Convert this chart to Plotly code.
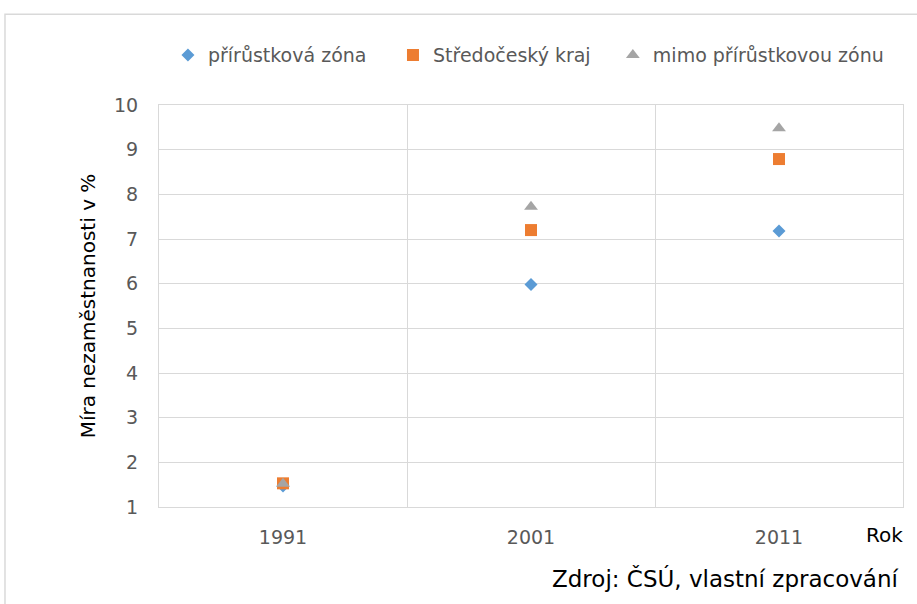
import plotly.graph_objects as go

# ---------------------------------------------------------
# data
# ---------------------------------------------------------

years = ["1991", "2001", "2011"]

zona = [1.47, 5.98, 7.18]
kraj = [1.53, 7.2, 8.79]
mimo = [1.52, 7.72, 9.48]

series = [
    ("přírůstková zóna", zona, "diamond", "#5B9BD5", 10, "legend"),
    ("Středočeský kraj", kraj, "square", "#ED7D31", 12, "legend2"),
    ("mimo přírůstkovou zónu", mimo, "triangle-up", "#A5A5A5", 12, "legend3"),
]

pos = list(range(len(years)))

FONT = "DejaVu Sans"

fig = go.Figure()

for name, values, symbol, color, size, leg in series:
    fig.add_trace(
        go.Scatter(
            x=pos,
            y=values,
            mode="markers",
            name=name,
            legend=leg,
            showlegend=True,
            marker=dict(symbol=symbol, color=color, size=size),
        )
    )

grid = "#D9D9D9"
tick_font = dict(family=FONT, size=19, color="#595959")
legend_font = dict(family=FONT, size=19, color="#595959")


def legend_at(x):
    return dict(
        orientation="h",
        x=x,
        xanchor="left",
        y=1.124,
        yanchor="middle",
        font=legend_font,
        bgcolor="rgba(0,0,0,0)",
    )


fig.update_layout(
    width=917,
    height=604,
    showlegend=True,
    margin=dict(l=159, r=14, t=105, b=97),
    paper_bgcolor="white",
    plot_bgcolor="white",
    font=dict(family=FONT, color="#595959"),
    legend=legend_at(0.012),
    legend2=legend_at(0.3145),
    legend3=legend_at(0.610),
    xaxis=dict(
        range=[-0.5, 2.5],
        tickvals=pos,
        ticktext=years,
        showgrid=False,
        zeroline=False,
        showline=True,
        linecolor=grid,
        mirror=True,
        ticks="",
        ticklabelstandoff=13,
        tickfont=tick_font,
        minor=dict(tickvals=[0.5, 1.5], showgrid=True, gridcolor=grid),
    ),
    yaxis=dict(
        range=[1, 10],
        dtick=1,
        showgrid=True,
        gridcolor=grid,
        zeroline=False,
        showline=True,
        linecolor=grid,
        mirror=True,
        ticks="",
        ticklabelstandoff=16,
        tickfont=tick_font,
        title=dict(
            text="Míra nezaměstnanosti v %",
            font=dict(family=FONT, size=20, color="black"),
            standoff=13,
        ),
    ),
)

fig.add_annotation(
    text="Rok",
    xref="paper", yref="paper",
    x=1.003, y=-0.07,
    xanchor="right", yanchor="middle",
    showarrow=False,
    font=dict(family=FONT, size=20, color="black"),
)

fig.add_annotation(
    text="Zdroj: ČSÚ, vlastní zpracování",
    xref="paper", yref="paper",
    x=0.997, y=-0.177,
    xanchor="right", yanchor="middle",
    showarrow=False,
    font=dict(family=FONT, size=23, color="black"),
)

# outer chart frame
fig.add_shape(
    type="rect",
    xref="paper", yref="paper",
    x0=-0.207, y0=-0.4, x1=1.2, y1=1.226,
    line=dict(color="#D9D9D9", width=1.5),
    layer="below",
)

fig.write_html(
    "out.html",
    config={"displayModeBar": False},
    post_script="document.body.style.margin='0';",
)
